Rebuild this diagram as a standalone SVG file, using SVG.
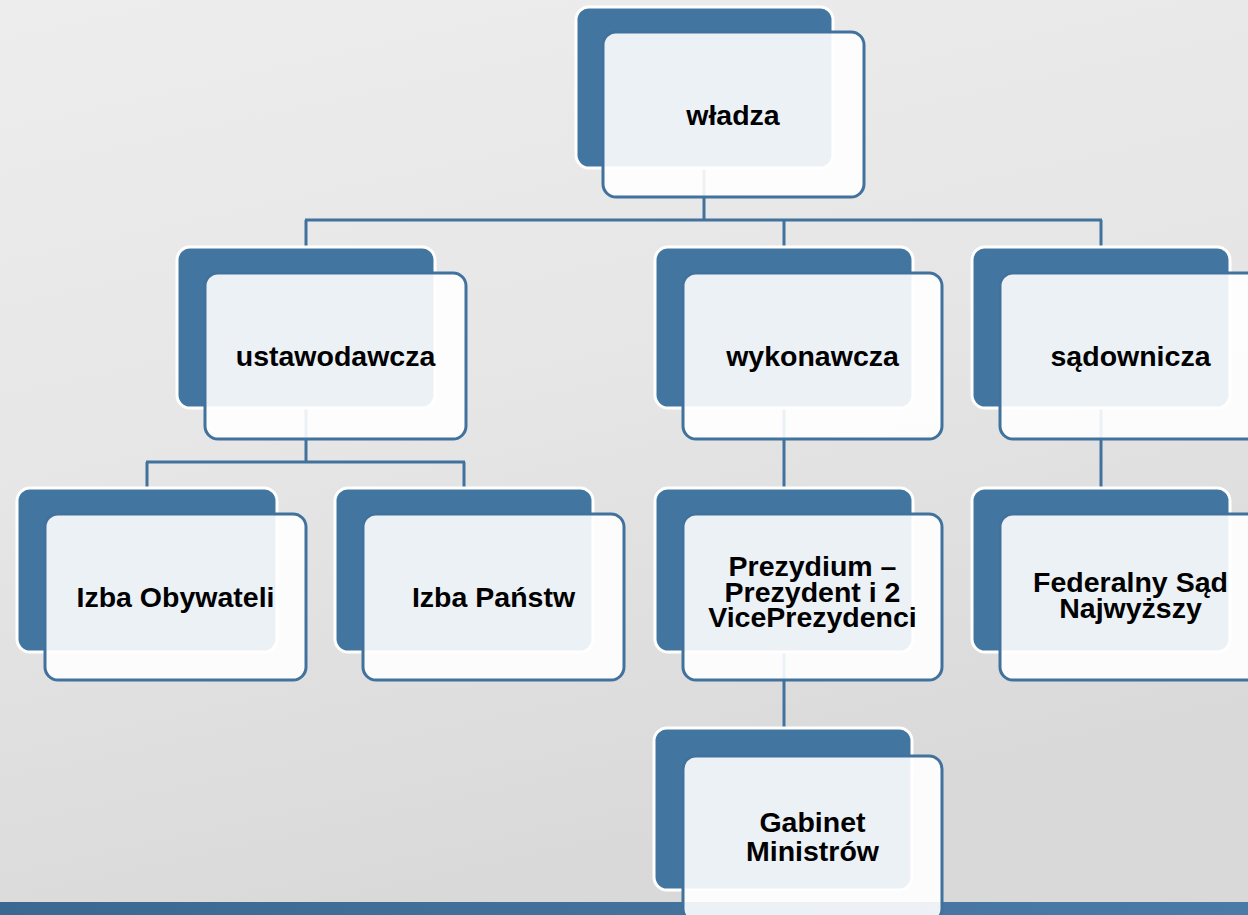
<svg xmlns="http://www.w3.org/2000/svg" width="1248" height="915" viewBox="0 0 1248 915">
<defs>
<linearGradient id="bg" x1="0" y1="0" x2="0.3" y2="1">
<stop offset="0" stop-color="#ededed"/>
<stop offset="0.5" stop-color="#e6e6e6"/>
<stop offset="1" stop-color="#d9d9d9"/>
</linearGradient>
<linearGradient id="bar" x1="0" y1="0" x2="1" y2="0">
<stop offset="0" stop-color="#3a6890"/>
<stop offset="1" stop-color="#4a7ba7"/>
</linearGradient>
<style>
.back{fill:#4276a0;stroke:#ffffff;stroke-width:3}
.front{fill:#ffffff;fill-opacity:0.9;stroke:#41729d;stroke-width:3}
.conn{fill:none;stroke:#41729d;stroke-width:3}
.lbl{font-family:"Liberation Sans",Arial,sans-serif;font-weight:bold;font-size:28.5px;fill:#000000;text-anchor:middle}
</style>
</defs>
<rect x="0" y="0" width="1248" height="915" fill="url(#bg)"/>
<rect x="0" y="902" width="1248" height="13" fill="url(#bar)"/>
<g id="connectors">
<path class="conn" d="M704 168 V220 M305 220 H1102 M306 220 V247 M784 220 V247 M1101 220 V247"/>
<path class="conn" d="M306 408 V462 M146 462 H465 M147 462 V487 M464 462 V487"/>
<path class="conn" d="M784 408 V487"/>
<path class="conn" d="M1101 408 V487"/>
<path class="conn" d="M784 652 V728"/>
</g>
<g id="wladza">
<rect class="back" x="576" y="7" width="257" height="161" rx="13"/>
<rect class="front" x="603" y="32" width="261" height="165" rx="13"/>
<text class="lbl" x="733" y="125">władza</text>
</g>
<g id="ustawodawcza">
<rect class="back" x="177" y="247" width="258" height="161" rx="13"/>
<rect class="front" x="205" y="273" width="261" height="166" rx="13"/>
<text class="lbl" x="335.5" y="366">ustawodawcza</text>
</g>
<g id="wykonawcza">
<rect class="back" x="655" y="247" width="258" height="161" rx="13"/>
<rect class="front" x="683" y="273" width="259" height="166" rx="13"/>
<text class="lbl" x="812.5" y="366">wykonawcza</text>
</g>
<g id="sadownicza">
<rect class="back" x="972" y="247" width="258" height="161" rx="13"/>
<rect class="front" x="1000" y="273" width="261" height="166" rx="13"/>
<text class="lbl" x="1130.5" y="366">sądownicza</text>
</g>
<g id="izba-obywateli">
<rect class="back" x="17" y="488" width="260" height="164" rx="13"/>
<rect class="front" x="45" y="514" width="261" height="166" rx="13"/>
<text class="lbl" x="175.5" y="607">Izba Obywateli</text>
</g>
<g id="izba-panstw">
<rect class="back" x="335" y="488" width="258" height="164" rx="13"/>
<rect class="front" x="363" y="514" width="261" height="166" rx="13"/>
<text class="lbl" x="493.5" y="607">Izba Państw</text>
</g>
<g id="prezydium">
<rect class="back" x="655" y="488" width="258" height="164" rx="13"/>
<rect class="front" x="683" y="514" width="259" height="166" rx="13"/>
<text class="lbl" x="812.5" y="576">Prezydium –</text>
<text class="lbl" x="812.5" y="602">Prezydent i 2</text>
<text class="lbl" x="812.5" y="627">VicePrezydenci</text>
</g>
<g id="federalny">
<rect class="back" x="972" y="488" width="258" height="164" rx="13"/>
<rect class="front" x="1000" y="514" width="261" height="166" rx="13"/>
<text class="lbl" x="1130.5" y="592">Federalny Sąd</text>
<text class="lbl" x="1130.5" y="618">Najwyższy</text>
</g>
<g id="gabinet">
<rect class="back" x="654" y="728" width="258" height="162" rx="13"/>
<rect class="front" x="683" y="756" width="259" height="166" rx="13"/>
<text class="lbl" x="812.5" y="832">Gabinet</text>
<text class="lbl" x="812.5" y="861">Ministrów</text>
</g>
</svg>
